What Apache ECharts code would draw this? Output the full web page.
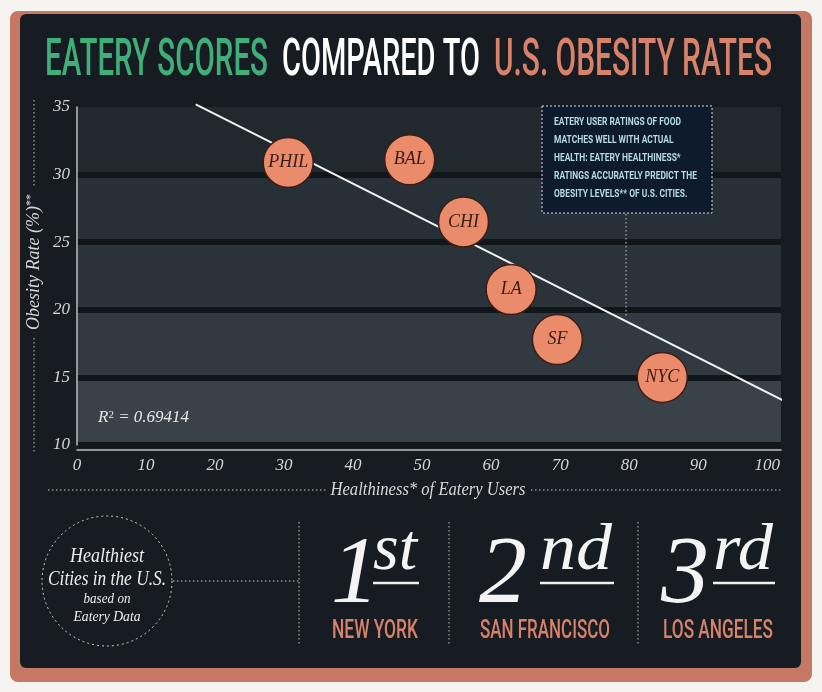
<!DOCTYPE html>
<html lang="en">
<head>
<meta charset="UTF-8">
<title>Eatery Scores vs Obesity Rates</title>
<script src="https://cdn.jsdelivr.net/npm/echarts@6/dist/echarts.min.js"></script>
<style>
  html, body { margin: 0; padding: 0; background: #f6f4f1; }
  #chart { width: 822px; height: 692px; }
</style>
</head>
<body>
<div id="chart"></div>
<script>
// values
var cities = ['PHIL', 'BAL', 'CHI', 'LA', 'SF', 'NYC'];
var healthiness = [30.6, 48.2, 56.0, 62.9, 69.6, 84.8];
var obesity = [30.9, 31.1, 26.5, 21.5, 17.8, 15.0];
var trendX = [17.2, 102.3];
var trendY = [35.2, 13.3];
var rSquared = '0.69414';
var noteLines = [
    'EATERY USER RATINGS OF FOOD',
    'MATCHES WELL WITH ACTUAL',
    'HEALTH: EATERY HEALTHINESS*',
    'RATINGS ACCURATELY PREDICT THE',
    'OBESITY LEVELS** OF U.S. CITIES.'
];
var rankNumbers = ['1', '2', '3'];
var rankSuffix = ['st', 'nd', 'rd'];
var rankCities = ['NEW YORK', 'SAN FRANCISCO', 'LOS ANGELES'];

var BG = '#161c22';
var SALMON = '#d9826a';
var SERIF = 'Liberation Serif';
var SANS = 'Roboto';

// squeeze a text horizontally so it fills a given width (the original uses a condensed face)
var measureCtx = document.createElement('canvas').getContext('2d');
function fitText(str, x, y, width, font, extra) {
    measureCtx.font = (font.fontStyle || 'normal') + ' ' + (font.fontWeight || 'normal') + ' ' +
        font.fontSize + 'px "' + font.fontFamily + '"';
    var w = measureCtx.measureText(str).width;
    var style = Object.assign({ text: str, align: 'left', verticalAlign: 'middle' }, font, extra || {});
    return { type: 'text', x: x, y: y, scaleX: width / w, silent: true, z: 10, style: style };
}
function dotted(x1, y1, x2, y2) {
    return {
        type: 'line', silent: true, z: 5,
        shape: { x1: x1, y1: y1, x2: x2, y2: y2 },
        style: { stroke: '#c8c8c8', lineWidth: 1, lineDash: [1.5, 2.5] }
    };
}

var elements = [];
// card
elements.push({ type: 'rect', z: -10, silent: true, shape: { x: 10, y: 11, width: 802, height: 671, r: 8 }, style: { fill: '#c57863' } });
elements.push({ type: 'rect', z: -9, silent: true, shape: { x: 20, y: 14, width: 781, height: 654, r: 6 }, style: { fill: BG } });

// title
var titleFont = { fontFamily: SANS, fontWeight: 500, fontSize: 52 };
elements.push(fitText('EATERY SCORES', 45, 62, 223, titleFont, { fill: '#3fae78' }));
elements.push(fitText('COMPARED TO', 282, 62, 198, titleFont, { fill: '#ffffff' }));
elements.push(fitText('U.S. OBESITY RATES', 494, 62, 278, titleFont, { fill: SALMON }));

// axis names
elements.push({
    type: 'text', x: 34, y: 262, rotation: Math.PI / 2, silent: true, z: 10,
    style: {
        text: '{a|Obesity Rate (%)}{b|**}', align: 'center', verticalAlign: 'middle',
        rich: {
            a: { fill: '#d8d8d8', fontFamily: SERIF, fontStyle: 'italic', fontSize: 18 },
            b: { fill: '#d8d8d8', fontFamily: SERIF, fontSize: 12, verticalAlign: 'top' }
        }
    }
});
elements.push(dotted(34, 100, 34, 186));
elements.push(dotted(34, 338, 34, 452));
elements.push(fitText('Healthiness* of Eatery Users', 428, 490, 195,
    { fontFamily: SERIF, fontStyle: 'italic', fontSize: 19 }, { fill: '#d8d8d8', align: 'center' }));
elements.push(dotted(48, 490, 326, 490));
elements.push(dotted(531, 490, 782, 490));

// R squared
elements.push({
    type: 'text', x: 98, y: 418, silent: true, z: 10,
    style: {
        text: '{a|R}{b|2}{a| = ' + rSquared + '}', align: 'left', verticalAlign: 'middle',
        rich: {
            a: { fill: '#e8e8e8', fontFamily: SERIF, fontStyle: 'italic', fontSize: 17 },
            b: { fill: '#e8e8e8', fontFamily: SERIF, fontSize: 11, verticalAlign: 'top' }
        }
    }
});

// note box
elements.push({
    type: 'rect', silent: true, z: 8,
    shape: { x: 542, y: 106, width: 170, height: 107 },
    style: { fill: '#0e1a2d', stroke: '#d8dde0', lineWidth: 1, lineDash: [2, 2] }
});
(function () {
    var noteFont = { fontFamily: SANS, fontWeight: 'bold', fontSize: 11.5 };
    measureCtx.font = 'bold 11.5px "Roboto"';
    var widest = 0;
    noteLines.forEach(function (l) { widest = Math.max(widest, measureCtx.measureText(l).width); });
    noteLines.forEach(function (l, i) {
        elements.push({
            type: 'text', x: 554, y: 122 + i * 18, scaleX: 143 / widest, silent: true, z: 10,
            style: Object.assign({ text: l, fill: '#b5dbe3', align: 'left', verticalAlign: 'middle' }, noteFont)
        });
    });
})();
elements.push(dotted(626, 214, 626, 318));

// healthiest cities badge
elements.push({
    type: 'circle', silent: true, z: 5,
    shape: { cx: 107, cy: 581, r: 65 },
    style: { fill: 'none', stroke: '#d0d0d0', lineWidth: 1, lineDash: [2, 3] }
});
var badgeFont = { fontFamily: SERIF, fontStyle: 'italic' };
elements.push(fitText('Healthiest', 107, 556, 74, Object.assign({ fontSize: 21 }, badgeFont), { fill: '#eeeeee', align: 'center' }));
elements.push(fitText('Cities in the U.S.', 107, 579, 118, Object.assign({ fontSize: 21 }, badgeFont), { fill: '#eeeeee', align: 'center' }));
elements.push(fitText('based on', 107, 599, 47, Object.assign({ fontSize: 15 }, badgeFont), { fill: '#eeeeee', align: 'center' }));
elements.push(fitText('Eatery Data', 107, 617, 67, Object.assign({ fontSize: 15 }, badgeFont), { fill: '#eeeeee', align: 'center' }));
elements.push(dotted(173, 581, 299, 581));
elements.push(dotted(299, 522, 299, 645));
elements.push(dotted(449, 522, 449, 645));
elements.push(dotted(638, 522, 638, 645));

// ranking
var rankNumX = [331, 479, 661];
var rankSufX = [373, 540, 713];
var rankSufW = [44, 72, 60];
var rankCityX = [332, 480, 663];
var rankCityW = [86, 130, 110];
rankNumbers.forEach(function (n, i) {
    elements.push({
        type: 'text', x: rankNumX[i], y: 577, silent: true, z: 10,
        style: { text: n, fill: '#f4f4f4', fontFamily: SERIF, fontStyle: 'italic', fontSize: 96, align: 'left', verticalAlign: 'middle' }
    });
    elements.push(fitText(rankSuffix[i], rankSufX[i], 552, rankSufW[i],
        { fontFamily: SERIF, fontStyle: 'italic', fontSize: 66 }, { fill: '#f4f4f4' }));
    elements.push({
        type: 'line', silent: true, z: 10,
        shape: { x1: rankSufX[i], y1: 583, x2: rankSufX[i] + rankSufW[i] + 2, y2: 583 },
        style: { stroke: '#f0f0f0', lineWidth: 2.5 }
    });
    elements.push(fitText(rankCities[i], rankCityX[i], 632, rankCityW[i],
        { fontFamily: SANS, fontWeight: 500, fontSize: 25 }, { fill: SALMON }));
});

var chart = echarts.init(document.getElementById('chart'));
var option = {
    animation: false,
    backgroundColor: '#f6f4f1',
    grid: { left: 77, right: 41, top: 107, bottom: 247, containLabel: false, outerBoundsMode: 'none' },
    xAxis: {
        type: 'value', min: 0, max: 102, interval: 10, offset: 5,
        axisLine: { show: true, lineStyle: { color: '#b9bec2', width: 1.5 } },
        axisTick: { show: false },
        splitLine: { show: false },
        axisLabel: {
            showMaxLabel: false, margin: 7, color: '#d4d4d4',
            fontFamily: SERIF, fontStyle: 'italic', fontSize: 17,
            formatter: function (v) { return v % 10 === 0 ? String(v) : ''; }
        }
    },
    yAxis: {
        type: 'value', min: 10, max: 35, interval: 5,
        axisLine: { show: true, lineStyle: { color: '#b9bec2', width: 1.5 } },
        axisTick: { show: false },
        axisLabel: { margin: 7, color: '#d4d4d4', fontFamily: SERIF, fontStyle: 'italic', fontSize: 17 },
        splitLine: { show: true, showMaxLine: false, lineStyle: { color: '#11161b', width: 6 } },
        splitArea: { show: true, areaStyle: { color: ['#394249', '#313a41', '#2b333a', '#273037', '#21282e'] } }
    },
    series: [
        {
            type: 'line',
            data: trendX.map(function (x, i) { return [x, trendY[i]]; }),
            symbol: 'none', clip: false, silent: true, z: 2,
            lineStyle: { color: '#f2f2f2', width: 2 }
        },
        {
            type: 'scatter',
            data: cities.map(function (c, i) { return [healthiness[i], obesity[i], c]; }),
            symbolSize: 50, z: 3,
            itemStyle: { color: '#ea8b6c', borderColor: '#3c1c14', borderWidth: 1.5, opacity: 1 },
            label: {
                show: true, position: 'inside',
                formatter: function (p) { return p.data[2]; },
                color: '#3a1e16', fontFamily: SERIF, fontStyle: 'italic', fontSize: 18
            }
        }
    ],
    graphic: { elements: elements }
};
chart.setOption(option);
</script>
</body>
</html>
